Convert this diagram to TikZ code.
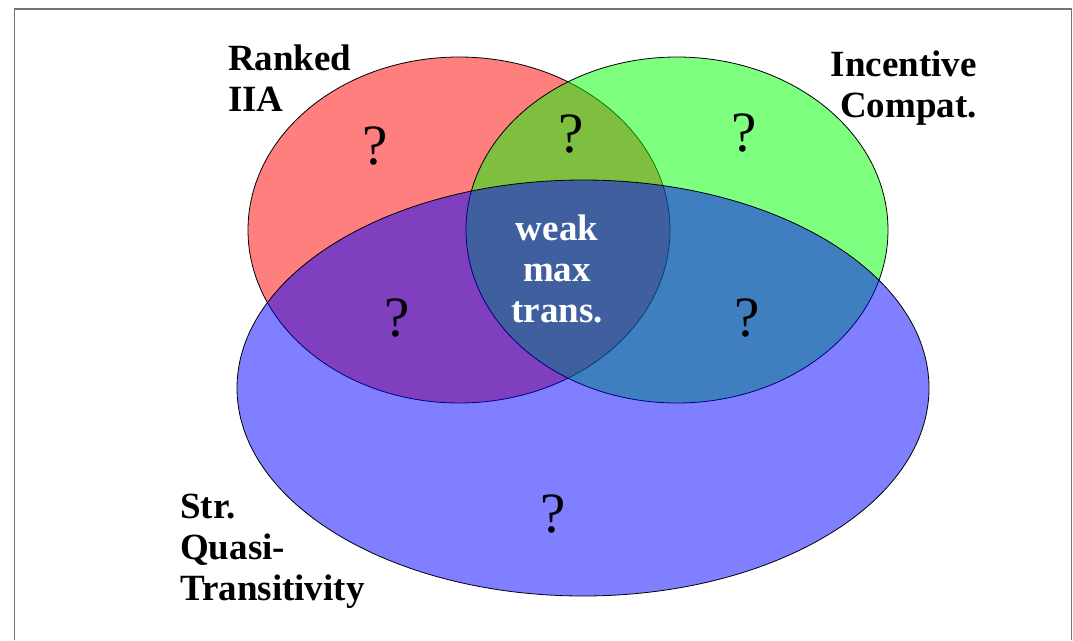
\documentclass[tikz,border=0pt]{standalone}
\usepackage{fontspec}
\setmainfont{Liberation Serif}
\begin{document}
\begin{tikzpicture}[x=1pt,y=-1pt,
  setfill/.style={fill=#1,fill opacity=0.5,draw=black,draw opacity=1,line width=0.8pt},
  setlabel/.style={font=\fontsize{37}{41}\selectfont\bfseries,inner sep=0pt},
  qmark/.style={font=\fontsize{57}{60}\selectfont,inner sep=0pt}]
  \useasboundingbox (0,0) rectangle (1073,640);
  \fill[white] (0,0) rectangle (1073,640);
  % slide frame, open at the bottom
  \draw[line width=1.6pt,draw=black!55] (14.5,640) -- (14.5,9) -- (1071.5,9) -- (1071.5,640);

  % the three sets
  \path[setfill=red]   (459,230) ellipse [x radius=211pt,y radius=173pt];
  \path[setfill=green] (677,230) ellipse [x radius=211pt,y radius=173pt];
  \path[setfill=blue]  (583,388) ellipse [x radius=346pt,y radius=208pt];

  % set names (anchored at the baseline of their last line)
  \node[setlabel,anchor=base west,align=left] (rk) at (228,111) {Ranked\\IIA};
  \node[setlabel,anchor=base east,align=right] (ic) at (977,117) {Incentive\\Compat.};
  \node[setlabel,anchor=base west,align=left] (sq) at (180,600) {Str.\\Quasi-\\Transitivity};

  % regions
  \node[qmark] (q1) at (375,146) {?};
  \node[qmark] (q2) at (571,134) {?};
  \node[qmark] (q3) at (744,133) {?};
  \node[qmark] (q4) at (397,318) {?};
  \node[qmark] (q5) at (747,318) {?};
  \node[qmark] (q6) at (553,514) {?};
  \node[setlabel,text=white,align=center,anchor=base] (wm) at (557,322) {weak\\max\\trans.};
\end{tikzpicture}
\end{document}
